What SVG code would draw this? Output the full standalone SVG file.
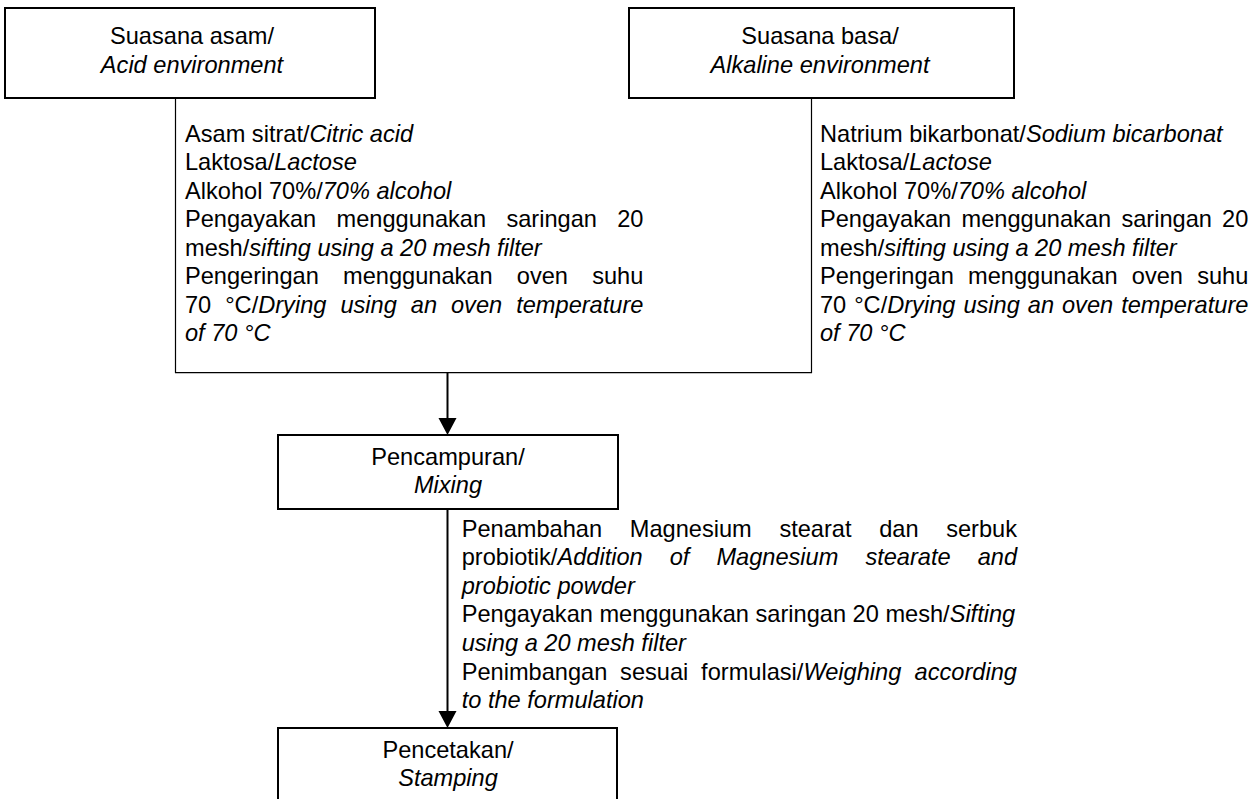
<svg xmlns="http://www.w3.org/2000/svg" width="1260" height="799" viewBox="0 0 1260 799">
<style>
text{font-family:"Liberation Sans",Arial,sans-serif;font-size:23.6px;fill:#000}
.c{text-anchor:middle}
.i{font-style:italic}
.box{fill:#fff;stroke:#000;stroke-width:2}
.thin{fill:none;stroke:#000;stroke-width:1.2}
.arr{fill:none;stroke:#000;stroke-width:2}
.head{fill:#000}
</style>
<g id="connectors">
<path class="thin" d="M175.5,98 V372.7 H811.5 V98"/>
<line class="arr" x1="447.5" y1="373" x2="447.5" y2="418"/>
<path class="head" d="M438.5,418 L456.5,418 L447.5,435 Z"/>
<line class="arr" x1="447.5" y1="509" x2="447.5" y2="712"/>
<path class="head" d="M438.5,711 L456.5,711 L447.5,728 Z"/>
</g>
<g id="node-acid">
<rect class="box" x="5" y="8" width="370" height="90"/>
<text class="c" x="192" y="44.3">Suasana asam/</text>
<text class="c i" x="192" y="72.7">Acid environment</text>
</g>
<g id="node-alkaline">
<rect class="box" x="629" y="8" width="385" height="90"/>
<text class="c" x="820" y="44.3">Suasana basa/</text>
<text class="c i" x="820" y="72.7">Alkaline environment</text>
</g>
<g id="label-acid">
<text x="185" y="141.7">Asam sitrat/<tspan class="i">Citric acid</tspan></text>
<text x="185" y="170.2">Laktosa/<tspan class="i">Lactose</tspan></text>
<text x="185" y="198.7">Alkohol 70%/<tspan class="i">70% alcohol</tspan></text>
<text y="227.2"><tspan x="185">Pengayakan</tspan><tspan x="336.5">menggunakan</tspan><tspan x="506.4">saringan</tspan><tspan x="617.2">20</tspan></text>
<text x="185" y="255.7">mesh/<tspan class="i">sifting using a 20 mesh filter</tspan></text>
<text y="284.2"><tspan x="185">Pengeringan</tspan><tspan x="343">menggunakan</tspan><tspan x="516.8">oven</tspan><tspan x="592.2">suhu</tspan></text>
<text y="312.7"><tspan x="185">70</tspan><tspan x="225.2">°C/</tspan><tspan class="i">Drying</tspan><tspan class="i" x="340.4">using</tspan><tspan class="i" x="410.8">an</tspan><tspan class="i" x="451">oven</tspan><tspan class="i" x="516.2">temperature</tspan></text>
<text class="i" x="185" y="341.2">of 70 °C</text>
</g>
<g id="label-alkaline">
<text x="820" y="141.7">Natrium bikarbonat/<tspan class="i">Sodium bicarbonat</tspan></text>
<text x="820" y="170.2">Laktosa/<tspan class="i">Lactose</tspan></text>
<text x="820" y="198.7">Alkohol 70%/<tspan class="i">70% alcohol</tspan></text>
<text y="227.2"><tspan x="820">Pengayakan</tspan><tspan x="961.5">menggunakan</tspan><tspan x="1121.4">saringan</tspan><tspan x="1222.1">20</tspan></text>
<text x="820" y="255.7">mesh/<tspan class="i">sifting using a 20 mesh filter</tspan></text>
<text y="284.2"><tspan x="820">Pengeringan</tspan><tspan x="968">menggunakan</tspan><tspan x="1131.8">oven</tspan><tspan x="1197.2">suhu</tspan></text>
<text y="312.7"><tspan x="820">70</tspan><tspan x="854.2">°C/</tspan><tspan class="i">Drying</tspan><tspan class="i" x="963.4">using</tspan><tspan class="i" x="1027.8">an</tspan><tspan class="i" x="1062">oven</tspan><tspan class="i" x="1121.2">temperature</tspan></text>
<text class="i" x="820" y="341.2">of 70 °C</text>
</g>
<g id="node-mixing">
<rect class="box" x="278" y="435" width="340" height="74"/>
<text class="c" x="448" y="465">Pencampuran/</text>
<text class="c i" x="448" y="492.7">Mixing</text>
</g>
<g id="label-mixing">
<text y="536.7"><tspan x="461.7">Penambahan</tspan><tspan x="629.8">Magnesium</tspan><tspan x="779.4">stearat</tspan><tspan x="879.2">dan</tspan><tspan x="946.2">serbuk</tspan></text>
<text y="565.3"><tspan x="461.7">probiotik/</tspan><tspan class="i">Addition</tspan><tspan class="i" x="669.7">of</tspan><tspan class="i" x="716.4">Magnesium</tspan><tspan class="i" x="865.4">stearate</tspan><tspan class="i" x="977.7">and</tspan></text>
<text class="i" x="461.7" y="593.8">probiotic powder</text>
<text x="461.7" y="622.4">Pengayakan menggunakan saringan 20 mesh/<tspan class="i">Sifting</tspan></text>
<text class="i" x="461.7" y="651">using a 20 mesh filter</text>
<text y="679.6"><tspan x="461.7">Penimbangan</tspan><tspan x="620.1">sesuai</tspan><tspan x="701.1">formulasi/</tspan><tspan class="i">Weighing</tspan><tspan class="i" x="914.6">according</tspan></text>
<text class="i" x="461.7" y="708.1">to the formulation</text>
</g>
<g id="node-stamping">
<rect class="box" x="278" y="728" width="339" height="90"/>
<text class="c" x="448" y="757.5">Pencetakan/</text>
<text class="c i" x="448" y="785.5">Stamping</text>
</g>
</svg>
